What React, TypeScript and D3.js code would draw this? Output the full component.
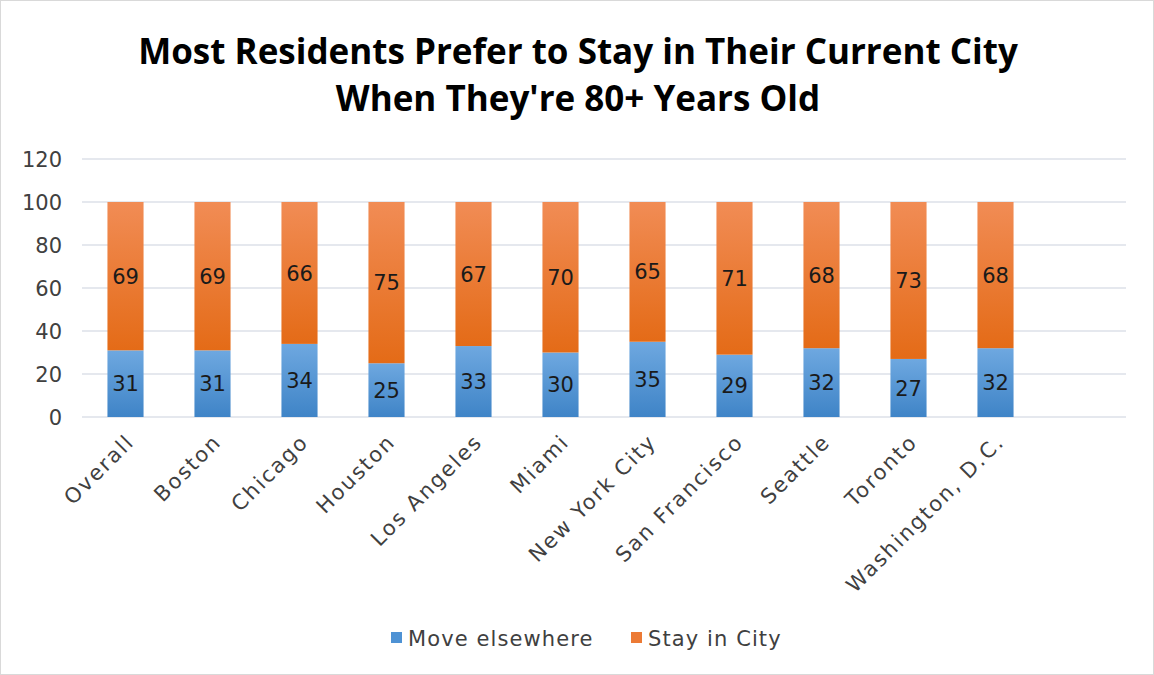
import React from "react";
import * as d3 from "d3";

const categories = ["Overall", "Boston", "Chicago", "Houston", "Los Angeles", "Miami", "New York City", "San Francisco", "Seattle", "Toronto", "Washington, D.C."];
const moveElsewhere = [31, 31, 34, 25, 33, 30, 35, 29, 32, 27, 32];
const stayInCity = [69, 69, 66, 75, 67, 70, 65, 71, 68, 73, 68];
const yTicks = [0, 20, 40, 60, 80, 100, 120];
const seriesNames = ["Move elsewhere", "Stay in City"];
const titleLines = ["Most Residents Prefer to Stay in Their Current City", "When They're 80+ Years Old"];

const W = 1154;
const H = 675;
const left = 82;
const right = 1126;
const top = 159;
const bottom = 417;
const font = "'DejaVu Sans', sans-serif";
const titleFont = "'Open Sans', sans-serif";

export default function App() {
  const x = d3.scaleBand<string>().domain([...categories, "__empty__"]).range([left, right]).paddingInner(0.585).paddingOuter(0.2925);
  const y = d3.scaleLinear().domain([0, 120]).range([bottom, top]);
  const bw = x.bandwidth();
  const legendX = [391, 631];
  const legendFill = ["#4E92D4", "#EC7A35"];
  return (
    <svg width={W} height={H} style={{ position: "absolute", left: 0, top: 0 }}>
      <defs>
        <linearGradient id="gBlue" x1="0" y1="0" x2="0" y2="1">
          <stop offset="0" stopColor="#6EA8E0" />
          <stop offset="1" stopColor="#3F84C7" />
        </linearGradient>
        <linearGradient id="gOrange" x1="0" y1="0" x2="0" y2="1">
          <stop offset="0" stopColor="#F18C55" />
          <stop offset="1" stopColor="#E46B17" />
        </linearGradient>
      </defs>
      <rect x={0.5} y={0.5} width={W - 1} height={H - 1} fill="#fff" stroke="#D9D9D9" />
      {titleLines.map((t, i) => (
        <text key={i} x={578} y={64 + i * 47} textAnchor="middle" fontFamily={titleFont} fontWeight={700} fontSize={35} fill="#000">{t}</text>
      ))}
      {yTicks.map((t) => (
        <g key={t}>
          <line x1={left} x2={right} y1={y(t)} y2={y(t)} stroke="#DDE1E9" strokeWidth={1.5} />
          <text x={62} y={y(t)} dy="0.36em" textAnchor="end" fontFamily={font} fontSize={21} fill="#404040">{t}</text>
        </g>
      ))}
      {categories.map((c, i) => {
        const x0 = x(c)!;
        const m = moveElsewhere[i];
        const s = stayInCity[i];
        return (
          <g key={c}>
            <rect x={x0} y={y(m)} width={bw} height={y(0) - y(m)} fill="url(#gBlue)" />
            <rect x={x0} y={y(m + s)} width={bw} height={y(m) - y(m + s)} fill="url(#gOrange)" />
            <text x={x0 + bw / 2} y={(y(0) + y(m)) / 2} dy="0.36em" textAnchor="middle" fontFamily={font} fontSize={21} fill="#1a1a1a">{m}</text>
            <text x={x0 + bw / 2} y={(y(m) + y(m + s)) / 2} dy="0.36em" textAnchor="middle" fontFamily={font} fontSize={21} fill="#1a1a1a">{s}</text>
            <text transform={`translate(${x0 + bw / 2 - 1},${bottom + 15}) rotate(-45)`} textAnchor="end" dy="0.75em" fontFamily={font} fontSize={21} letterSpacing={2} fill="#404040">{c}</text>
          </g>
        );
      })}
      {seriesNames.map((n, i) => (
        <g key={n} transform={`translate(${legendX[i]},638)`}>
          <rect x={0} y={-6} width={11} height={11} fill={legendFill[i]} />
          <text x={17} y={0} dy="0.36em" fontFamily={font} fontSize={21} letterSpacing={1.1} fill="#404040">{n}</text>
        </g>
      ))}
    </svg>
  );
}
